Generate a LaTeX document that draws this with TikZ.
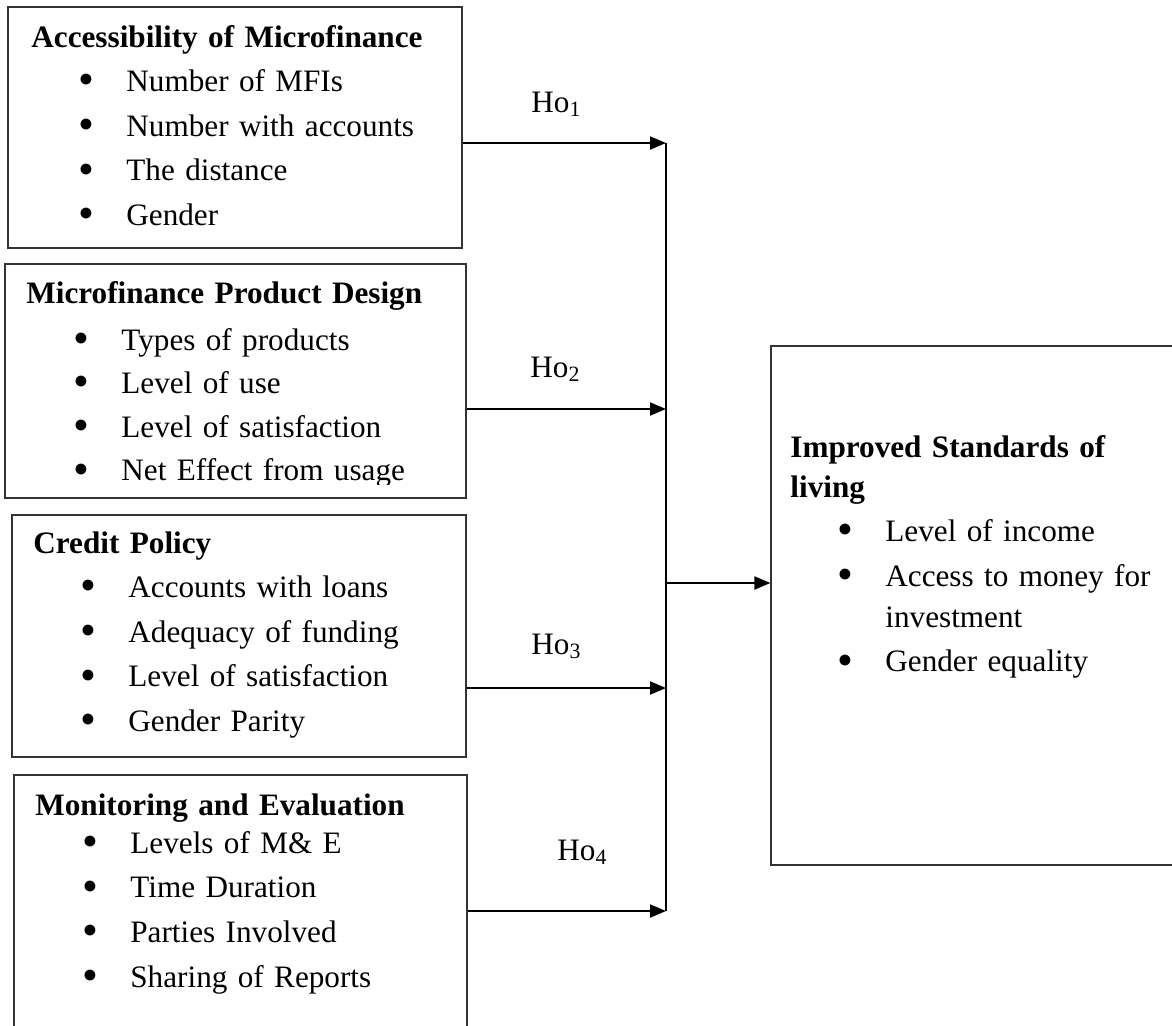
\documentclass[tikz,border=0pt]{standalone}
\usepackage{fontspec}
\setmainfont{Liberation Serif}
\usetikzlibrary{arrows.meta, positioning, fit}
\newcommand{\bl}{\hspace*{23.5pt}\makebox[24pt][l]{\raisebox{-1.6pt}{\scalebox{1.45}{\textbullet}}}}
\newcommand{\blgap}{\hspace*{47.5pt}}
\tikzset{
  varBox/.style={rectangle, draw=black!80, line width=0.6pt, inner sep=0pt},
  varText/.style={anchor=base west, align=left, inner sep=0pt, text width=210pt,
                  font=\fontsize{15.6}{22.3}\selectfont},
  hypLabel/.style={anchor=base west, inner sep=0pt, font=\fontsize{15.6}{22}\selectfont},
  arrowK/.style={-{Triangle[length=8pt, width=6.5pt]}, black, line width=1pt},
}

\begin{document}
\begin{tikzpicture}[x=0.5pt, y=-0.5pt]
    \path[use as bounding box] (0,0) rectangle (1172,1025);
    \clip (0,0) rectangle (1172,1025);
    % independent variables
    \node[varBox, fit={(8,7) (462,248)}] (acc) {};
    \node[varText] (accT) at (31,47) {\textbf{Accessibility of Microfinance}\\
      \bl Number of MFIs\\ \bl Number with accounts\\ \bl The distance\\ \bl Gender};
    \node[varBox, fit={(5,264) (466,498)}] (prod) {};
    \begin{scope}
      \clip (5,264) rectangle (466,484);
      \node[varText] (prodT) at (26,303) {\textbf{Microfinance Product Design}\\[1.2pt]
        \bl Types of products\\[-0.5pt] \bl Level of use\\[-0.5pt] \bl Level of satisfaction\\[-0.5pt]
        \bl Net Effect from usage};
    \end{scope}
    \node[varBox, fit={(12,515) (466,757)}] (cred) {};
    \node[varText] (credT) at (33,553) {\textbf{Credit Policy}\\
      \bl Accounts with loans\\ \bl Adequacy of funding\\ \bl Level of satisfaction\\
      \bl Gender Parity};
    \node[varBox, fit={(14,775) (467,1045)}] (mon) {};
    \node[varText] (monT) at (35,815) {\textbf{Monitoring and Evaluation}\\[-3.2pt]
      \bl Levels of M\& E\\ \bl Time Duration\\ \bl Parties Involved\\
      \bl Sharing of Reports};
    % dependent variable
    \node[varBox, fit={(771,346) (1195,865)}] (std) {};
    \node[varText] (stdT) at (790,457) {\textbf{Improved Standards of}\\[-2.3pt]
      \textbf{living}\\ \bl Level of income\\ \bl Access to money for\\[-1.8pt]
      \blgap investment\\ \bl Gender equality};
    % hypotheses
    \coordinate (b1) at (666,143);
    \coordinate (b2) at (666,409);
    \coordinate (b3) at (666,688);
    \coordinate (b4) at (666,911);
    \coordinate (bm) at (666,583);
    \node[hypLabel] (h1) at (531,112) {Ho\textsubscript{1}};
    \node[hypLabel] (h2) at (530,377) {Ho\textsubscript{2}};
    \node[hypLabel] (h3) at (531,654) {Ho\textsubscript{3}};
    \node[hypLabel] (h4) at (557,860) {Ho\textsubscript{4}};
    \draw[arrowK] (b1 -| acc.east) -- (b1);
    \draw[arrowK] (b2 -| prod.east) -- (b2);
    \draw[arrowK] (b3 -| cred.east) -- (b3);
    \draw[arrowK] (b4 -| mon.east) -- (b4);
    \draw[line width=1pt] (b1) -- (b4);
    \draw[arrowK] (bm) -- (bm -| std.west);
\end{tikzpicture}
\end{document}
